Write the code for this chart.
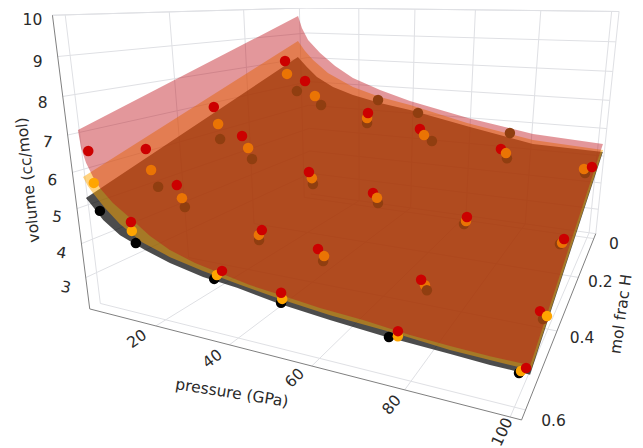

import numpy as np, pandas as pd, altair as alt

# ---- values -----------------------------------------------------------
PRESSURE = [2, 12, 36, 51, 77, 100]
RED_X = [[.600,.597,.594,.597,.598,.546],[.491,.499,.498,.500,.523,.479],[.320,.328,.360,.317,.329,.319],[.083,.111,.137,.108,.138,.038]]
RED_V = [[6.52,4.69,3.78,3.55,3.22,2.43],[6.15,5.23,4.28,4.03,3.90,3.26],[6.91,6.06,5.31,4.64,4.37,4.06],[8.05,7.40,6.47,5.94,5.63,4.87]]
ORANGE_X = [[.597,.597,.605,.595,.598,.577],[.484,.490,.506,.483,.508,.418],[.311,.312,.351,.301,.333,.336],[.077,.073,.141,.085,.098,.157]]
ORANGE_V = [[5.63,4.44,3.75,3.37,3.09,2.68],[5.48,4.79,4.19,3.71,3.64,2.59],[6.31,5.60,5.07,4.40,4.27,4.06],[7.54,6.74,6.30,5.64,5.33,5.33]]
BLACK_X = [[.592,.592,.611,.598,.625,.588],[.472,.485,.506,.486,.500,.450],[.308,.302,.348,.297,.343,.356],[.040,.048,.141,.039,.088,.137]]
BLACK_V = [[4.81,4.06,3.69,3.29,3.33,2.75],[4.90,4.49,4.04,3.59,3.44,2.79],[5.78,5.18,4.87,4.21,4.24,4.16],[6.78,6.32,6.12,5.25,5.11,5.11]]
BLACK_EXTRA_P = [29.4, 43.7, 74.2]
BLACK_EXTRA_X = [0.0, 0.0, 0.0]
BLACK_EXTRA_V = [6.53, 6.14, 5.66]

RED_EDGE_BACK_P = [-0.6,0.8,3.1,7.7,13.4,20.1,30.1,40.8,60.6,81.3,101.8]
RED_EDGE_BACK_V = [9.69,9.23,8.76,8.26,7.77,7.34,6.93,6.58,6.09,5.70,5.55]
RED_EDGE_FRONT_P = [-0.4,-0.1,0.9,2.5,4.3,7.7,12.3,17.7,23.0,29.7,36.2,43.7,51.0,60.3,69.8,79.6,87.5,95.0,102.2]
RED_EDGE_FRONT_V = [7.06,6.58,6.18,5.82,5.53,5.17,4.83,4.42,4.13,3.91,3.77,3.61,3.52,3.40,3.33,3.21,3.16,3.13,3.13]
ORANGE_EDGE_BACK_P = [-0.9,1.8,4.9,10.6,20.1,30.1,40.9,60.4,81.4,102.0]
ORANGE_EDGE_BACK_V = [8.71,8.32,7.97,7.48,6.98,6.65,6.42,5.90,5.48,5.34]
ORANGE_EDGE_FRONT_P = [-0.6,0.6,1.9,5.1,9.1,15.2,22.9,31.7,41.2,51.0,62.6,76.9,87.5,95.0,102.4]
ORANGE_EDGE_FRONT_V = [5.77,5.54,5.36,4.99,4.60,4.20,3.93,3.73,3.56,3.41,3.27,3.17,3.06,3.04,3.02]
BLACK_EDGE_BACK_P = [-1.1,2.4,6.3,12.5,20.1,30.1,40.9,61.4,81.5,102.0]
BLACK_EDGE_BACK_V = [8.06,7.68,7.29,6.93,6.66,6.42,6.23,5.76,5.33,5.27]
BLACK_EDGE_FRONT_P = [-0.5,1.4,4.1,8.8,15.8,22.7,31.6,40.4,50.9,62.5,74.1,87.6,95.1,102.3]
BLACK_EDGE_FRONT_V = [5.18,4.96,4.63,4.28,3.99,3.76,3.56,3.46,3.27,3.14,3.04,2.97,2.92,2.91]

P_TICKS = [20, 40, 60, 80, 100]
X_TICKS = [0, .2, .4, .6]
V_TICKS = [3, 4, 5, 6, 7, 8, 9, 10]
X_LABELS = ["0", "0.2", "0.4", "0.6"]
P_ANGLES = [325, 323, 315, 310, 295]
V_ANGLES = [12, 10, 8, 5, 5, 0, 0, 0]
P0, P1, X0, X1, V0, V1 = 0, 102, -.03, .62, 2.05, 10

# ---- camera (3D box -> picture), fitted to box landmarks ----------------
calib=[
(0,.6,10,64,17),(0,.4,10,167,14),(0,.2,10,241,11),(0,0,10,302,8),
(20,0,10,354,8),(40,0,10,411,9),(60,0,10,473,9.5),(80,0,10,538,10),(100,0,10,610,11),
(20,.62,2.05,157,324),(40,.62,2.05,230,343),(60,.62,2.05,315,367),(80,.62,2.05,406,390),(100,.62,2.05,512,417),
(102,.6,2.05,526,411),(102,.4,2.05,557,331),(102,.2,2.05,578,276),(102,0,2.05,593,244),(102,.62,2.05,522,420),
(0,.62,10,52,18),(0,.62,9,58,58),(0,.62,8,63,97),(0,.62,7,68,135),(0,.62,6,73,172),(0,.62,5,76,207),(0,.62,4,81,241),(0,.62,3,84,276),(0,.62,2.05,88,309),
(102,-.03,10,618,11),(102,-.03,9,615,41),(102,-.03,8,612,71),(102,-.03,7,609,99),(102,-.03,6,606,128),(102,-.03,4,600,183),(102,-.03,3,597,208),(102,-.03,2.05,597,236),
]
c=np.array(calib,float)
W=np.c_[c[:,0]/100,c[:,1],c[:,2]/10,np.ones(len(c))]
A=[];b=[]
for row,r in zip(c,W):
    u,w=row[3],row[4]
    A.append(list(r)+[0,0,0,0]+list(-u*r[:3])); b.append(u)
    A.append([0,0,0,0]+list(r)+list(-w*r[:3])); b.append(w)
m=np.linalg.lstsq(np.array(A),np.array(b),rcond=None)[0]
M=np.r_[m,1].reshape(3,4)
def proj(p,x,v):
    h=M@np.array([p/100,x,v/10,1.0]); return float(h[0]/h[2]),float(h[1]/h[2])

# ---- box ---------------------------------------------------------------
g=[]
def seg(name,a,b):
    for i,q in enumerate((a,b)):
        u,w=proj(*q); g.append(dict(group=name,seq=i,sx=u,sy=w))
for p in P_TICKS:
    seg(f'f{p}',(p,X0,V0),(p,X1,V0)); seg(f'b{p}',(p,X0,V0),(p,X0,V1))
for x in X_TICKS:
    seg(f'fx{x}',(P0,x,V0),(P1,x,V0)); seg(f'l{x}',(P0,x,V0),(P0,x,V1))
for v in V_TICKS:
    seg(f'lv{v}',(P0,X0,v),(P0,X1,v)); seg(f'bv{v}',(P0,X0,v),(P1,X0,v))
seg('tr',(P1,X0,V0),(P1,X0,V1)); seg('t1',(P0,X1,V1),(P0,X0,V1)); seg('t2',(P0,X0,V1),(P1,X0,V1))
seg('bb',(P0,X0,V0),(P1,X0,V0))
grid=pd.DataFrame(g); g=[]
seg('e1',(P0,X1,V0),(P0,X1,V1)); seg('e2',(P0,X1,V0),(P1,X1,V0)); seg('e3',(P1,X1,V0),(P1,X0,V0))
edge=pd.DataFrame(g)

X=alt.X('sx:Q',scale=alt.Scale(domain=[8,635],range=[0,627],nice=False,zero=False),axis=None)
Y=alt.Y('sy:Q',scale=alt.Scale(domain=[448,8],range=[440,0],nice=False,zero=False),axis=None)
gl=alt.Chart(grid).mark_line(color='#dfe0e4',strokeWidth=1).encode(x=X,y=Y,detail='group:N',order='seq:Q')
el=alt.Chart(edge).mark_line(color='#808080',strokeWidth=1).encode(x=X,y=Y,detail='group:N',order='seq:Q')

# ---- surfaces ----------------------------------------------------------
def surface(bp,bv,fp,fv,color,op):
    pts=[proj(p,0,v) for p,v in zip(bp,bv)]+[proj(p,.6,v) for p,v in zip(fp[::-1],fv[::-1])]
    df=pd.DataFrame([dict(sx=u,sy=w,seq=i) for i,(u,w) in enumerate(pts)])
    return alt.Chart(df).mark_line(fill=color,fillOpacity=op,strokeWidth=0,stroke='transparent',interpolate='linear-closed').encode(x=X,y=Y,order='seq:Q')
s_k=surface(BLACK_EDGE_BACK_P,BLACK_EDGE_BACK_V,BLACK_EDGE_FRONT_P,BLACK_EDGE_FRONT_V,'#000000',.7)
s_o=surface(ORANGE_EDGE_BACK_P,ORANGE_EDGE_BACK_V,ORANGE_EDGE_FRONT_P,ORANGE_EDGE_FRONT_V,'#ffa500',.5)
s_r=surface(RED_EDGE_BACK_P,RED_EDGE_BACK_V,RED_EDGE_FRONT_P,RED_EDGE_FRONT_V,'#bd0e17',.43)

# ---- markers -----------------------------------------------------------
ORANGE_OVER_RED = [(1,3),(2,3),(3,3),(3,4),(1,5)]
pts=[]
for r in range(4):
    for k in range(6):
        p=PRESSURE[k]
        u,w=proj(p,RED_X[r][k],RED_V[r][k]); pts.append(dict(sx=u,sy=w,col='#cc0000',ord=3))
        u,w=proj(p,ORANGE_X[r][k],ORANGE_V[r][k])
        bright=(r==0) or (r==1 and k==5)
        pts.append(dict(sx=u,sy=w,col='#ffa500' if bright else '#ea7404',ord=4 if (r,k) in ORANGE_OVER_RED else 2))
        u,w=proj(p,BLACK_X[r][k],BLACK_V[r][k])
        pts.append(dict(sx=u,sy=w,col='#000000' if r==0 else '#903e10',ord=5 if (r,k)==(1,4) else 1))
for p,x,v in zip(BLACK_EXTRA_P,BLACK_EXTRA_X,BLACK_EXTRA_V):
    u,w=proj(p,x,v); pts.append(dict(sx=u,sy=w,col='#903e10',ord=1))
pts=pd.DataFrame(pts)
mk=alt.Chart(pts).mark_circle(size=110,opacity=1).encode(x=X,y=Y,color=alt.Color('col:N',scale=None),order='ord:Q')

# ---- text --------------------------------------------------------------
FONT='DejaVu Sans'
lab=[]
for v,a in zip(V_TICKS,V_ANGLES):
    u,w=proj(P0,X1,v); lab.append(dict(sx=u-20,sy=w+5+(10-v)*0.7,t=str(v),a=a))
for p,a,d in zip(P_TICKS,P_ANGLES,[(-19,13),(-17,14),(-17,12),(-13,15),(-8,15)]):
    u,w=proj(p,X1,V0); lab.append(dict(sx=u+d[0],sy=w+d[1],t=str(p),a=a))
for x,s,d in zip(X_TICKS,X_LABELS,[(20,5),(22,5),(25,7),(28,11)]):
    u,w=proj(P1,x,V0); lab.append(dict(sx=u+d[0],sy=w+d[1],t=s,a=0))
lab=pd.DataFrame(lab)
tl=alt.Chart(lab).mark_text(font=FONT,fontSize=15.5,color='#2a2a2a',align='center',baseline='middle').encode(x=X,y=Y,text='t:N',angle=alt.Angle('a:Q',scale=None))
titles=pd.DataFrame([dict(sx=28,sy=180,t='volume (cc/mol)',a=264),dict(sx=232,sy=393,t='pressure (GPa)',a=9),dict(sx=621,sy=314,t='mol frac H',a=278)])
tt=alt.Chart(titles).mark_text(font=FONT,fontSize=15.5,color='#2a2a2a',align='center',baseline='middle').encode(x=X,y=Y,text='t:N',angle=alt.Angle('a:Q',scale=None))

chart=alt.layer(gl,el,s_k,s_o,s_r,mk,tl,tt).properties(width=627,height=440,padding=0,autosize=alt.AutoSizeParams(type='none')).configure_view(stroke=None)
chart.save("out.html",embed_options={"renderer":"svg","actions":False})
